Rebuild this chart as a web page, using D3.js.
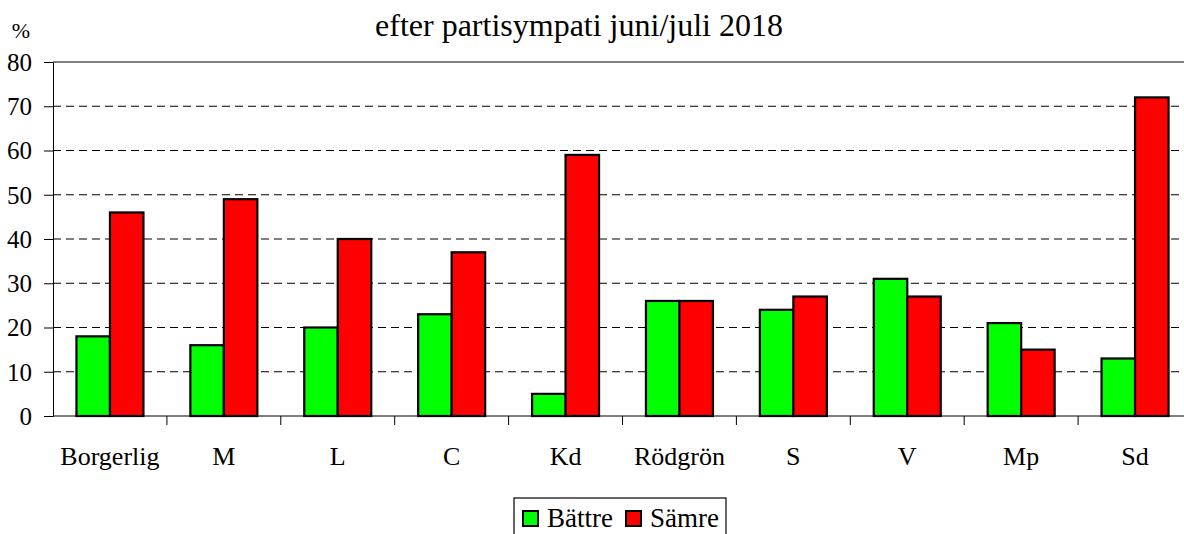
<!DOCTYPE html>
<html>
<head>
<meta charset="utf-8">
<script src="https://cdn.jsdelivr.net/npm/d3@7"></script>
<style>
  body { margin: 0; background: #fff; }
  svg { display: block; }
</style>
</head>
<body>
<svg id="chart" width="1184" height="534"></svg>
<script>
// party groups and shares (%)
const categories = ["Borgerlig", "M", "L", "C", "Kd", "Rödgrön", "S", "V", "Mp", "Sd"];
const battre = [18, 16, 20, 23, 5, 26, 24, 31, 21, 13];
const samre = [46, 49, 40, 37, 59, 26, 27, 27, 15, 72];
const seriesNames = ["Bättre", "Sämre"];
const seriesColors = ["#00ff00", "#ff0000"];
const yTicks = [0, 10, 20, 30, 40, 50, 60, 70, 80];

const FONT = "Liberation Serif";
const svg = d3.select("#chart");

const plotLeft = 53, plotRight = 1192, plotTop = 62, plotBottom = 416;

const x = d3.scaleBand().domain(categories).range([plotLeft, plotRight]).paddingInner(0).paddingOuter(0);
const y = d3.scaleLinear().domain([0, 80]).range([plotBottom, plotTop]);
const barW = 33.5;

// gridlines
svg.append("g").selectAll("line")
  .data(yTicks.filter(d => d > 0 && d < 80))
  .join("line")
  .attr("x1", plotLeft).attr("x2", plotRight)
  .attr("y1", d => y(d)).attr("y2", d => y(d))
  .attr("stroke", "#000").attr("stroke-width", 1)
  .attr("stroke-dasharray", "8,5");

svg.append("line")
  .attr("x1", plotLeft).attr("x2", plotRight)
  .attr("y1", y(80)).attr("y2", y(80))
  .attr("stroke", "#000").attr("stroke-width", 1);

// bars
const data = categories.map((c, i) => ({cat: c, vals: [battre[i], samre[i]]}));
const groups = svg.append("g").selectAll("g")
  .data(data).join("g")
  .attr("transform", d => `translate(${x(d.cat) + x.bandwidth() / 2 - barW},0)`);

groups.selectAll("rect")
  .data(d => d.vals)
  .join("rect")
  .attr("x", (d, i) => i * barW)
  .attr("y", d => y(d))
  .attr("width", barW)
  .attr("height", d => y(0) - y(d))
  .attr("fill", (d, i) => seriesColors[i])
  .attr("stroke", "#000")
  .attr("stroke-width", 2.2);

// y axis
const yAxis = d3.axisLeft(y).tickValues(yTicks).tickSize(9).tickPadding(12);
const yg = svg.append("g").attr("transform", `translate(${plotLeft},0)`).call(yAxis);
yg.select(".domain").attr("stroke", "#000");
yg.selectAll("text")
  .style("font-family", FONT)
  .style("font-size", "25px")
  .attr("fill", "#000")
  .attr("dy", "0.33em");

// x axis with ticks at band boundaries
svg.append("line")
  .attr("x1", plotLeft).attr("x2", plotRight)
  .attr("y1", plotBottom).attr("y2", plotBottom)
  .attr("stroke", "#000");
svg.append("g").selectAll("line")
  .data(categories.slice(1))
  .join("line")
  .attr("x1", d => x(d)).attr("x2", d => x(d))
  .attr("y1", plotBottom).attr("y2", plotBottom + 9)
  .attr("stroke", "#000");
svg.append("g").selectAll("text")
  .data(categories)
  .join("text")
  .attr("x", d => x(d) + x.bandwidth() / 2)
  .attr("y", 465)
  .attr("text-anchor", "middle")
  .style("font-family", FONT)
  .style("font-size", "26px")
  .text(d => d);

// titles
svg.append("text")
  .attr("x", 579).attr("y", 36)
  .attr("text-anchor", "middle")
  .style("font-family", FONT)
  .style("font-size", "32px")
  .text("efter partisympati juni/juli 2018");

svg.append("text")
  .attr("x", 21).attr("y", 38)
  .attr("text-anchor", "middle")
  .style("font-family", FONT)
  .style("font-size", "22px")
  .text("%");

// legend
const lg = svg.append("g").attr("transform", "translate(514,498)");
lg.append("rect").attr("x", 0).attr("y", 0).attr("width", 212).attr("height", 40)
  .attr("fill", "#fff").attr("stroke", "#000").attr("stroke-width", 1.2);
const lx = [9, 112];
seriesNames.forEach((n, i) => {
  lg.append("rect").attr("x", lx[i]).attr("y", 13).attr("width", 15).attr("height", 15)
    .attr("fill", seriesColors[i]).attr("stroke", "#000").attr("stroke-width", 2);
  lg.append("text").attr("x", lx[i] + 24).attr("y", 29)
    .style("font-family", FONT)
    .style("font-size", "27px").text(n);
});
</script>
</body>
</html>
